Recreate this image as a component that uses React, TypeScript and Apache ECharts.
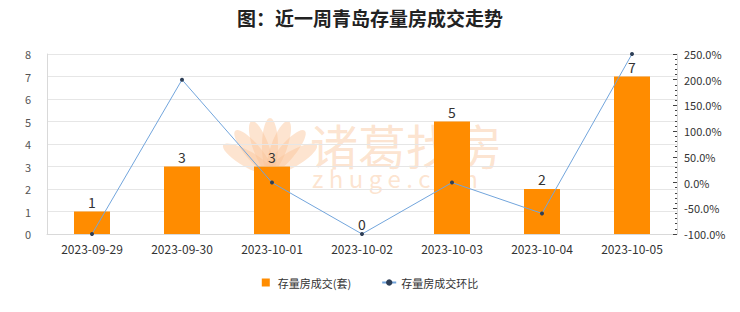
import React, { useEffect, useRef } from "react";
import * as echarts from "echarts";

const categories = ["2023-09-29", "2023-09-30", "2023-10-01", "2023-10-02", "2023-10-03", "2023-10-04", "2023-10-05"];
const volumes = [1, 3, 3, 0, 5, 2, 7];
const changes = [-100, 200, 0, -100, 0, -60, 250];
const barName = "存量房成交(套)";
const lineName = "存量房成交环比";
const titleText = "图：近一周青岛存量房成交走势";

const FONT = "'Noto Sans CJK SC', 'Noto Sans', sans-serif";
const WM = "rgba(250, 195, 150, 0.45)";

export default function App() {
  const ref = useRef<HTMLDivElement>(null);
  useEffect(() => {
    if (!ref.current) return;
    const chart = echarts.init(ref.current, undefined, { renderer: "svg" });
    const petals = [-60, -40, -20, 0, 20, 40, 60].map((deg) => ({
      type: "ellipse",
      x: 270,
      y: 172,
      rotation: (-deg * Math.PI) / 180,
      shape: { cx: 0, cy: -26, rx: 8, ry: 28 },
      style: { fill: WM },
      z: -10,
      silent: true,
    }));
    chart.setOption({
      animation: false,
      textStyle: { fontFamily: FONT },
      title: {
        text: titleText,
        left: "center",
        top: 3,
        textStyle: { fontSize: 19, fontWeight: "bold", color: "#222", fontFamily: FONT },
      },
      graphic: [
        ...petals,
        {
          type: "text",
          x: 310,
          y: 124,
          z: -10,
          silent: true,
          style: { text: "诸葛找房", fontSize: 48, lineHeight: 40, fill: WM, fontFamily: FONT, fontWeight: "normal" },
        },
        {
          type: "text",
          x: 312,
          y: 168,
          z: -10,
          silent: true,
          style: { text: "z h u g e . c o m", fontSize: 24, lineHeight: 18, fill: WM, fontFamily: FONT },
        },
      ],
      legend: {
        bottom: 19,
        left: "center",
        itemGap: 30,
        itemWidth: 14,
        itemHeight: 8,
        symbolKeepAspect: true,
        textStyle: { fontSize: 11, color: "#333", fontFamily: FONT },
        data: [
          { name: barName, icon: "path://M0,0H8V8H0Z", itemStyle: { color: "#FF8C00" } },
          { name: lineName },
        ],
      },
      grid: { left: 47, right: 63, top: 54, bottom: 78 },
      xAxis: {
        type: "category",
        data: categories,
        axisLine: { lineStyle: { color: "#d9d9d9" } },
        axisTick: { show: false },
        axisLabel: { color: "#333", fontSize: 12, margin: 8, fontFamily: FONT },
      },
      yAxis: [
        {
          type: "value",
          min: 0,
          max: 8,
          interval: 1,
          axisLine: { show: true, lineStyle: { color: "#d9d9d9" } },
          axisTick: { show: false },
          axisLabel: { color: "#555", fontSize: 11, margin: 16, fontFamily: FONT },
          splitLine: { lineStyle: { color: "#e6e6e6" } },
        },
        {
          type: "value",
          min: -100,
          max: 250,
          interval: 50,
          position: "right",
          axisLine: { show: true, lineStyle: { color: "#d9d9d9" } },
          axisTick: { show: true, inside: true, length: 4, lineStyle: { color: "#444" } },
          minorTick: { show: true, splitNumber: 5, length: 2, lineStyle: { color: "#444" } },
          axisLabel: {
            color: "#333",
            fontSize: 11,
            margin: 7,
            fontFamily: FONT,
            formatter: (v: number) => v.toFixed(1) + "%",
          },
          splitLine: { show: false },
        },
      ],
      series: [
        {
          name: barName,
          type: "bar",
          data: volumes,
          barWidth: "40%",
          itemStyle: { color: "#FF8C00" },
          label: { show: true, position: "top", color: "#333", fontSize: 14, distance: 3, fontFamily: FONT },
        },
        {
          name: lineName,
          type: "line",
          yAxisIndex: 1,
          data: changes,
          symbol: "circle",
          symbolSize: 4,
          lineStyle: { color: "#72a5dc", width: 1 },
          itemStyle: { color: "#2e3f57" },
        },
      ],
    });
    return () => chart.dispose();
  }, []);
  return <div ref={ref} style={{ width: 740, height: 312, marginLeft: -8, marginTop: -8 }} />;
}
